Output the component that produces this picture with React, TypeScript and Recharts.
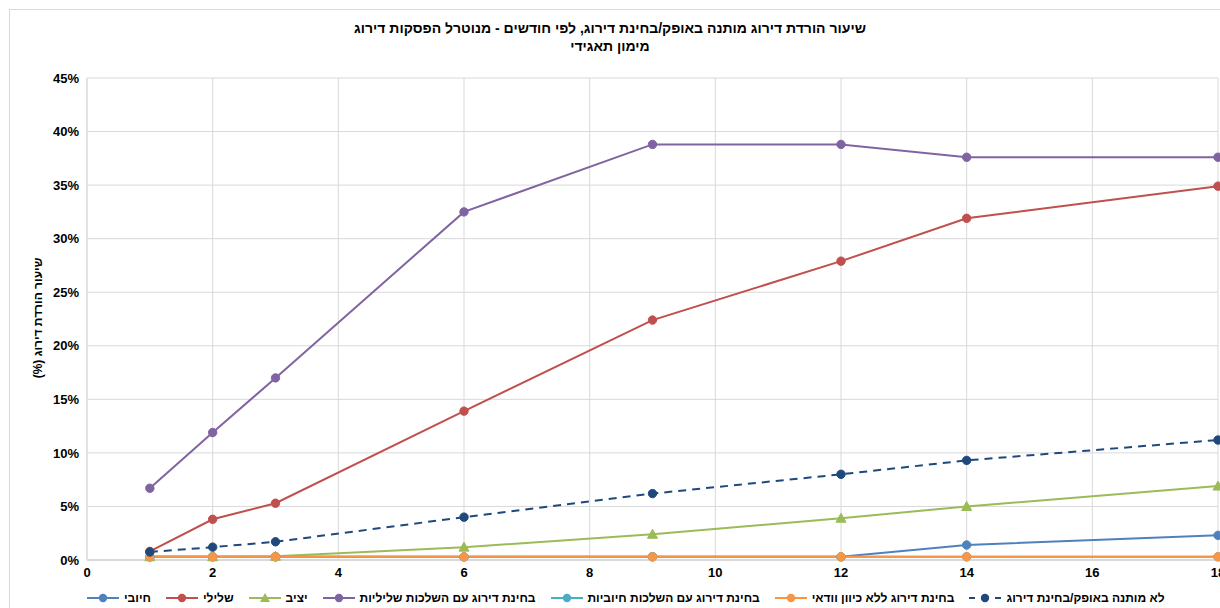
import React from "react";
import { LineChart, Line, XAxis, YAxis, CartesianGrid } from "recharts";

// months since the rating event
const months = [1, 2, 3, 6, 9, 12, 14, 18];

// downgrade rate (%) per series
const positive = [0.3, 0.3, 0.3, 0.3, 0.3, 0.3, 1.4, 2.3];
const negative = [0.8, 3.8, 5.3, 13.9, 22.4, 27.9, 31.9, 34.9];
const stable = [0.3, 0.3, 0.35, 1.2, 2.4, 3.9, 5.0, 6.9];
const reviewNegative = [6.7, 11.9, 17.0, 32.5, 38.8, 38.8, 37.6, 37.6];
const reviewPositive = [0.3, 0.3, 0.3, 0.3, 0.3, 0.3, 0.3, 0.3];
const reviewUncertain = [0.3, 0.3, 0.3, 0.3, 0.3, 0.3, 0.3, 0.3];
const notConditional = [0.75, 1.2, 1.7, 4.0, 6.2, 8.0, 9.3, 11.2];

const xTicks = [0, 2, 4, 6, 8, 10, 12, 14, 16, 18];
const yTicks = [0, 5, 10, 15, 20, 25, 30, 35, 40, 45];

const title1 = "שיעור הורדת דירוג מותנה באופק/בחינת דירוג, לפי חודשים - מנוטרל הפסקות דירוג";
const title2 = "מימון תאגידי";
const yLabel = "שיעור הורדת דירוג (%)";

type Series = {
  key: string;
  name: string;
  values: number[];
  color: string;
  shape: "circle" | "triangle";
  dashed?: boolean;
};

const series: Series[] = [
  { key: "pos", name: "חיובי", values: positive, color: "#4f81bd", shape: "circle" },
  { key: "neg", name: "שלילי", values: negative, color: "#c0504d", shape: "circle" },
  { key: "stb", name: "יציב", values: stable, color: "#9bbb59", shape: "triangle" },
  { key: "rneg", name: "בחינת דירוג עם השלכות שליליות", values: reviewNegative, color: "#8064a2", shape: "circle" },
  { key: "rpos", name: "בחינת דירוג עם השלכות חיוביות", values: reviewPositive, color: "#4bacc6", shape: "circle" },
  { key: "runc", name: "בחינת דירוג ללא כיוון וודאי", values: reviewUncertain, color: "#f79646", shape: "circle" },
  { key: "nc", name: "לא מותנה באופק/בחינת דירוג", values: notConditional, color: "#1f497d", shape: "circle", dashed: true },
];

const data = months.map((m, i) => {
  const row: Record<string, number> = { month: m };
  series.forEach((s) => {
    row[s.key] = s.values[i];
  });
  return row;
});

const font = "'Liberation Sans', Arial, sans-serif";

function makeDot(s: Series) {
  return (props: any) => {
    const { cx, cy, index } = props;
    if (cx == null || cy == null) return <g key={index} />;
    if (s.shape === "triangle") {
      return (
        <path
          key={index}
          d={`M${cx},${cy - 5} L${cx + 5},${cy + 4} L${cx - 5},${cy + 4} Z`}
          fill={s.color}
          stroke={s.color}
          strokeWidth={1}
        />
      );
    }
    return <circle key={index} cx={cx} cy={cy} r={4.2} fill={s.color} stroke={s.color} strokeWidth={1} />;
  };
}

function LegendIcon({ s }: { s: Series }) {
  return (
    <svg width={32} height={12} style={{ display: "block" }}>
      <line
        x1={0}
        y1={6}
        x2={32}
        y2={6}
        stroke={s.color}
        strokeWidth={2}
        strokeDasharray={s.dashed ? "6 7" : undefined}
      />
      {s.shape === "triangle" ? (
        <path d="M16,1 L21,10 L11,10 Z" fill={s.color} />
      ) : (
        <circle cx={16} cy={6} r={4.2} fill={s.color} />
      )}
    </svg>
  );
}

export default function App() {
  return (
    <div
      style={{
        position: "absolute",
        left: 0,
        top: 0,
        width: 1220,
        height: 608,
        overflow: "hidden",
        background: "#fff",
        fontFamily: font,
      }}
    >
      <div
        style={{
          position: "absolute",
          left: 9,
          top: 9,
          width: 1260,
          height: 660,
          border: "1px solid #d9d9d9",
        }}
      />
      <div
        style={{
          position: "absolute",
          left: 0,
          top: 19,
          width: 1220,
          textAlign: "center",
          fontWeight: "bold",
          fontSize: 14,
          lineHeight: "18px",
          color: "#000",
          direction: "rtl",
        }}
      >
        <div>{title1}</div>
        <div>{title2}</div>
      </div>
      <div
        style={{
          position: "absolute",
          left: 38,
          top: 318,
          transform: "translate(-50%, -50%) rotate(-90deg)",
          whiteSpace: "nowrap",
          fontWeight: "bold",
          fontSize: 12,
          color: "#000",
          direction: "rtl",
        }}
      >
        {yLabel}
      </div>
      <div style={{ position: "absolute", left: 0, top: 0 }}>
        <LineChart
          width={1240}
          height={608}
          data={data}
          margin={{ top: 78, right: 22, left: 0, bottom: 18 }}
        >
          <CartesianGrid stroke="#d9d9d9" strokeWidth={1} />
          <XAxis
            dataKey="month"
            type="number"
            domain={[0, 18]}
            ticks={xTicks}
            interval={0}
            height={30}
            tickLine={false}
            axisLine={{ stroke: "#d9d9d9", strokeWidth: 2 }}
            tick={{ fill: "#000", fontSize: 13, fontWeight: "bold", fontFamily: font }}
          />
          <YAxis
            type="number"
            domain={[0, 45]}
            ticks={yTicks}
            interval={0}
            width={87}
            tickLine={false}
            axisLine={{ stroke: "#d9d9d9" }}
            tickFormatter={(v: number) => `${v}%`}
            tick={{ fill: "#000", fontSize: 13, fontWeight: "bold", fontFamily: font }}
          />
          {series.map((s) => (
            <Line
              key={s.key}
              dataKey={s.key}
              name={s.name}
              type="linear"
              stroke={s.color}
              strokeWidth={2}
              strokeDasharray={s.dashed ? "8 6" : undefined}
              dot={makeDot(s)}
              activeDot={false}
              isAnimationActive={false}
            />
          ))}
        </LineChart>
      </div>
      <div
        style={{
          position: "absolute",
          left: 87,
          top: 591,
          display: "flex",
          alignItems: "center",
          gap: 15,
          fontWeight: "bold",
          fontSize: 12,
          color: "#000",
          whiteSpace: "nowrap",
        }}
      >
        {series.map((s) => (
          <div key={s.key} style={{ display: "flex", alignItems: "center", gap: 5 }}>
            <LegendIcon s={s} />
            <span style={{ direction: "rtl" }}>{s.name}</span>
          </div>
        ))}
      </div>
    </div>
  );
}
